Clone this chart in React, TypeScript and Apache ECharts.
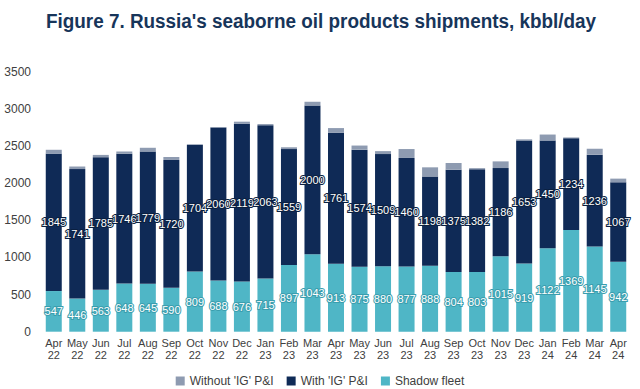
import React, { useEffect, useRef } from "react";
import * as echarts from "echarts";

const categories = [
  "Apr\n22", "May\n22", "Jun\n22", "Jul\n22", "Aug\n22", "Sep\n22", "Oct\n22", "Nov\n22", "Dec\n22",
  "Jan\n23", "Feb\n23", "Mar\n23", "Apr\n23", "May\n23", "Jun\n23", "Jul\n23", "Aug\n23", "Sep\n23",
  "Oct\n23", "Nov\n23", "Dec\n23", "Jan\n24", "Feb\n24", "Mar\n24", "Apr\n24",
];
const shadowFleet = [547, 446, 563, 648, 645, 590, 809, 688, 676, 715, 897, 1043, 913, 875, 880, 877, 888, 804, 803, 1015, 919, 1122, 1369, 1145, 942];
const withIG = [1845, 1741, 1785, 1746, 1779, 1720, 1704, 2060, 2119, 2063, 1559, 2000, 1761, 1574, 1509, 1460, 1198, 1375, 1382, 1186, 1653, 1450, 1234, 1236, 1067];
const withoutIG = [55, 35, 30, 30, 50, 40, 10, 5, 30, 15, 25, 50, 65, 55, 40, 120, 125, 90, 15, 90, 15, 80, 10, 80, 50];
const yTicks = [0, 500, 1000, 1500, 2000, 2500, 3000, 3500];

const TITLE = "Figure 7. Russia's seaborne oil products shipments, kbbl/day";
const C_GRAY = "#8e9bb1";
const C_NAVY = "#0f2a56";
const C_TEAL = "#4fb6c6";
const FONT = "Liberation Sans, Arial, sans-serif";

export default function App() {
  const ref = useRef<HTMLDivElement>(null);
  useEffect(() => {
    if (!ref.current) return;
    const chart = echarts.init(ref.current, null, { renderer: "svg" });
    const label = (border: string) => ({
      show: true,
      position: "inside",
      color: "#ffffff",
      fontSize: 11,
      fontFamily: FONT,
      textBorderColor: border,
      textBorderWidth: 2,
    });
    chart.setOption({
      animation: false,
      graphic: [
        {
          type: "text",
          x: 321,
          y: 21,
          scaleX: 0.945,
          style: {
            text: TITLE,
            textAlign: "center",
            textVerticalAlign: "middle",
            fontFamily: FONT,
            fontWeight: "bold",
            fontSize: 20,
            fill: "#17355a",
          },
        },
      ],
      grid: { left: 42, right: 10, top: 71.5, bottom: 57.3, containLabel: false },
      legend: {
        top: 370,
        left: "center",
        itemWidth: 9,
        itemHeight: 9,
        itemGap: 13,
        icon: "rect",
        textStyle: { fontSize: 12, color: "#404040", fontFamily: FONT },
        data: ["Without 'IG' P&I", "With 'IG' P&I", "Shadow fleet"],
      },
      xAxis: {
        type: "category",
        data: categories,
        axisLine: { show: false },
        axisTick: { show: false },
        axisLabel: {
          color: "#404040",
          fontSize: 11,
          lineHeight: 12,
          margin: 5,
          interval: 0,
          fontFamily: FONT,
        },
      },
      yAxis: {
        type: "value",
        min: 0,
        max: yTicks[yTicks.length - 1],
        interval: 500,
        splitLine: { show: false },
        axisLine: { show: false },
        axisTick: { show: false },
        axisLabel: {
          color: "#404040",
          fontSize: 12,
          margin: 11,
          fontFamily: FONT,
          formatter: (v: number) => String(v),
        },
      },
      series: [
        {
          name: "Shadow fleet",
          type: "bar",
          stack: "total",
          data: shadowFleet,
          barWidth: 16,
          itemStyle: { color: C_TEAL },
          label: label("#3a9eae"),
        },
        {
          name: "With 'IG' P&I",
          type: "bar",
          stack: "total",
          data: withIG,
          barWidth: 16,
          itemStyle: { color: C_NAVY },
          label: label("#0a1f40"),
        },
        {
          name: "Without 'IG' P&I",
          type: "bar",
          stack: "total",
          data: withoutIG,
          barWidth: 16,
          itemStyle: { color: C_GRAY },
        },
      ],
    });
    return () => chart.dispose();
  }, []);
  return (
    <div
      ref={ref}
      style={{ position: "absolute", left: 0, top: 0, width: 640, height: 389, background: "#ffffff" }}
    />
  );
}
